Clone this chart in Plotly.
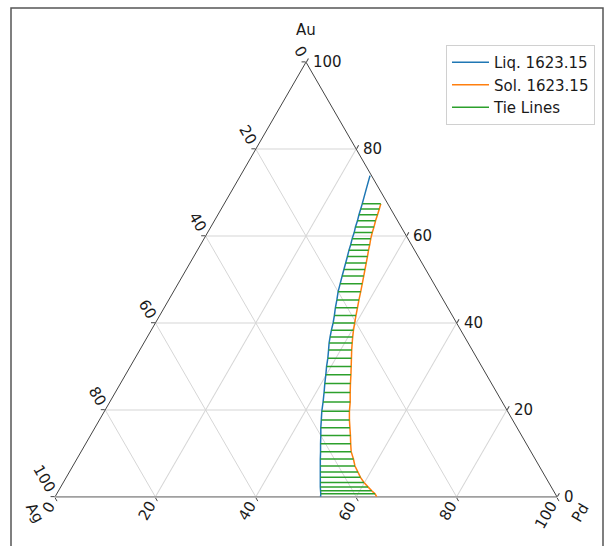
import math
import plotly.graph_objects as go

# Au-Ag-Pd isothermal section at 1623.15 K (compositions in at.%)
# Tie lines: Au level with the liquidus and solidus Pd content at each end
tie_au = [67.4, 66.2, 64.9, 63.5, 62.1, 60.8, 59.4, 58.0, 56.7, 55.3,
          53.8, 52.3, 50.8, 49.0, 47.2, 45.3, 43.5, 41.7, 40.0, 38.3,
          36.8, 35.4, 33.8, 31.9, 30.0, 28.1, 26.1, 24.0, 21.8, 19.7,
          17.7, 15.9, 14.1, 12.2, 10.4, 8.7, 7.1, 5.7, 4.5, 3.3,
          2.3, 1.4, 0.7]
tie_liq_pd = [27.5, 27.8, 28.1, 28.5, 28.8, 29.2, 29.5, 29.9, 30.2, 30.6,
              31.0, 31.4, 31.8, 32.3, 32.8, 33.5, 34.1, 34.8, 35.4, 35.9,
              36.4, 36.9, 37.6, 38.4, 39.1, 39.9, 40.7, 41.6, 42.5, 43.3,
              44.2, 45.0, 45.9, 46.8, 47.7, 48.5, 49.3, 50.0, 50.6, 51.2,
              51.7, 52.2, 52.6]
tie_sol_pd = [31.2, 31.5, 31.8, 32.1, 32.5, 32.8, 33.2, 33.7, 34.1, 34.6,
              35.1, 35.6, 36.1, 36.7, 37.3, 37.9, 38.5, 39.1, 39.7, 40.3,
              40.9, 41.5, 42.2, 43.1, 44.0, 44.9, 45.8, 46.8, 47.9, 48.8,
              49.8, 50.8, 51.8, 52.8, 53.8, 55.1, 56.2, 57.5, 58.6, 59.9,
              61.2, 62.4, 63.4]

# Liquidus runs further up towards the Au-Pd edge than the solidus
liq_top_au = [73.9, 70.8]
liq_top_pd = [25.8, 26.6]
liq_end_pd = 52.9   # Ag-Pd binary end (Au = 0)
sol_end_pd = 64.1

liq_au = liq_top_au + tie_au + [0.0]
liq_pd = liq_top_pd + tie_liq_pd + [liq_end_pd]
sol_au = tie_au + [0.0]
sol_pd = tie_sol_pd + [sol_end_pd]

ticks = [0, 20, 40, 60, 80, 100]

# Page and plot-area geometry
W, H = 612, 546
ML, MR, MT, MB = 55, 55, 62, 49
PW, PH = W - ML - MR, H - MT - MB
TRI_H = PW * math.sqrt(3) / 2

FONT = "DejaVu Sans"
BLUE, ORANGE, GREEN = "#1f77b4", "#ff7f0e", "#2ca02c"


def ag_of(au, pd):
    return [round(100 - x - y, 3) for x, y in zip(au, pd)]


fig = go.Figure()
fig.add_trace(go.Scatterternary(
    a=liq_au, b=ag_of(liq_au, liq_pd), c=liq_pd, mode="lines",
    name="Liq. 1623.15", line=dict(color=BLUE, width=1.5)))
fig.add_trace(go.Scatterternary(
    a=sol_au, b=ag_of(sol_au, sol_pd), c=sol_pd, mode="lines",
    name="Sol. 1623.15", line=dict(color=ORANGE, width=1.5)))

ta, tb, tc = [], [], []
for au, pl, ps in zip(tie_au, tie_liq_pd, tie_sol_pd):
    ta += [au, au, None]
    tc += [pl, ps, None]
    tb += [100 - au - pl, 100 - au - ps, None]
fig.add_trace(go.Scatterternary(
    a=ta, b=tb, c=tc, mode="lines", name="Tie Lines",
    line=dict(color=GREEN, width=1.5)))


def axis(linecolor, linewidth):
    return dict(
        tickmode="array", tickvals=ticks, showticklabels=False,
        ticks="outside", ticklen=4, tickcolor="#444", tickwidth=1,
        linecolor=linecolor, linewidth=linewidth,
        showgrid=True, gridcolor="#d6d6d6", gridwidth=1,
        title=dict(text=""), layer="below traces", min=0)


def paper(a, c):
    """Ternary point (Au, Pd) -> paper coordinates of the ternary domain."""
    x = c / 100 + a / 200
    y = (PH - TRI_H) / 2 / PH + a / 100 * TRI_H / PH
    return x, y


annotations = []
tick_font = dict(family=FONT, size=15, color="#1a1a1a")
for v in ticks:
    s = str(v)
    # Ag labels along the left edge
    x, y = paper(100 - v, 0)
    d = 6.5 + len(s) * 4.8
    annotations.append(dict(x=x, y=y, xref="paper", yref="paper", text=s,
                            showarrow=False, textangle=60, font=tick_font,
                            xanchor="center", yanchor="middle",
                            xshift=-0.5 * d, yshift=0.866 * d))
    # Pd labels along the bottom edge
    x, y = paper(0, v)
    d = 7 + len(s) * 4.8
    annotations.append(dict(x=x, y=y, xref="paper", yref="paper", text=s,
                            showarrow=False, textangle=-60, font=tick_font,
                            xanchor="center", yanchor="middle",
                            xshift=-0.5 * d, yshift=-0.866 * d))
    # Au labels along the right edge
    x, y = paper(v, 100 - v)
    annotations.append(dict(x=x, y=y, xref="paper", yref="paper", text=s,
                            showarrow=False, font=tick_font,
                            xanchor="left", yanchor="middle", xshift=5))

title_font = dict(family=FONT, size=15, color="#1a1a1a")
x, y = paper(100, 0)
annotations.append(dict(x=x, y=y, xref="paper", yref="paper", text="Au",
                        showarrow=False, font=title_font,
                        xanchor="center", yanchor="middle", yshift=32))
x, y = paper(0, 0)
annotations.append(dict(x=x, y=y, xref="paper", yref="paper", text="Ag",
                        showarrow=False, font=title_font, textangle=60,
                        xanchor="center", yanchor="middle",
                        xshift=-20, yshift=-16))
x, y = paper(0, 100)
annotations.append(dict(x=x, y=y, xref="paper", yref="paper", text="Pd",
                        showarrow=False, font=title_font, textangle=-60,
                        xanchor="center", yanchor="middle",
                        xshift=23, yshift=-16))

# Outer frame of the figure
fx0 = (11 - ML) / PW
fx1 = (603 - ML) / PW
fy_top = (H - MB - 8) / PH
fy_bot = (H - MB - 560) / PH
shapes = [dict(type="path", xref="paper", yref="paper",
               path=f"M {fx0} {fy_bot} L {fx0} {fy_top} L {fx1} {fy_top} L {fx1} {fy_bot}",
               line=dict(color="#555555", width=1.5))]

fig.update_layout(
    width=W, height=H,
    margin=dict(l=ML, r=MR, t=MT, b=MB, pad=0),
    paper_bgcolor="white", plot_bgcolor="white",
    font=dict(family=FONT, size=14, color="#1a1a1a"),
    ternary=dict(
        sum=100, bgcolor="rgba(0,0,0,0)",
        domain=dict(x=[0, 1], y=[0, 1]),
        aaxis=axis("#444444", 1),
        baxis=axis("#a0a0a0", 1.6),
        caxis=axis("#444444", 1),
    ),
    showlegend=True,
    legend=dict(x=(446 - ML) / PW, y=(H - MB - 45) / PH,
                xanchor="left", yanchor="top", itemwidth=37,
                bgcolor="white", bordercolor="#d0d0d0", borderwidth=1,
                font=dict(family=FONT, size=15, color="#1a1a1a")),
    annotations=annotations,
    shapes=shapes,
)

fig.write_html("out.html")
